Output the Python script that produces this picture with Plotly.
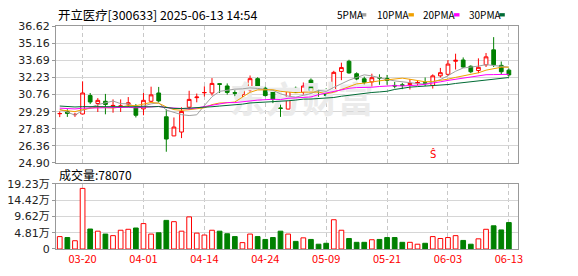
import plotly.graph_objects as go
import pandas as pd

# ---------------- data ----------------
dates = ["03-17","03-18","03-19","03-20","03-21","03-24","03-25","03-26","03-27","03-28","03-31",
         "04-01","04-02","04-03","04-07","04-08","04-09","04-10","04-11","04-14","04-15","04-16",
         "04-17","04-18","04-21","04-22","04-23","04-24","04-25","04-28","04-29","04-30",
         "05-06","05-07","05-08","05-09","05-12","05-13","05-14","05-15","05-16","05-19","05-20",
         "05-21","05-22","05-23","05-26","05-27","05-28","05-29","05-30",
         "06-03","06-04","06-05","06-06","06-09","06-10","06-11","06-12","06-13"]

opens  = [29.12, 29.30, 29.04, 29.10, 30.68, 30.00, 30.19, 29.78, 29.74, 29.95,
          29.68, 29.54, 30.19, 30.90, 28.86, 27.22, 27.55, 29.68, 30.50, 30.92,
          30.90, 31.70, 31.50, 30.93, 30.76, 31.17, 32.13, 31.31, 31.03, 29.62,
          29.52, 31.30, 30.95, 32.00, 31.00, 31.09, 31.03, 32.75, 33.62, 32.55,
          32.12, 31.85, 32.23, 32.15, 31.55, 31.60, 31.62, 31.75, 31.78, 31.55,
          32.37, 32.50, 33.62, 33.73, 33.19, 32.83, 33.32, 34.60, 33.27, 32.86]
highs  = [29.32, 29.50, 29.20, 31.90, 30.90, 30.46, 30.82, 30.35, 30.35, 30.55,
          29.95, 30.90, 31.44, 31.42, 29.50, 28.80, 29.67, 31.09, 30.85, 31.47,
          32.18, 31.72, 31.72, 31.17, 31.52, 32.40, 32.25, 31.45, 31.12, 29.90,
          31.30, 31.45, 31.80, 32.15, 31.17, 31.30, 32.80, 33.50, 33.75, 32.67,
          32.30, 32.55, 32.50, 32.45, 31.85, 31.77, 32.10, 31.96, 32.23, 32.50,
          33.05, 33.73, 34.27, 33.95, 33.27, 33.87, 34.33, 35.69, 33.60, 33.00]
lows   = [28.83, 28.85, 28.85, 29.05, 29.95, 29.27, 29.07, 29.21, 29.27, 29.70,
          28.80, 28.99, 30.08, 30.08, 25.86, 27.20, 27.03, 29.45, 30.10, 30.60,
          30.68, 30.90, 30.76, 30.62, 30.49, 30.95, 31.35, 30.60, 30.03, 28.85,
          29.50, 30.90, 30.76, 30.95, 30.57, 30.50, 30.90, 32.00, 32.55, 31.99,
          31.60, 31.45, 31.60, 31.60, 31.30, 31.23, 31.20, 31.55, 31.50, 31.28,
          32.23, 32.37, 32.91, 33.05, 32.60, 32.60, 33.13, 33.13, 32.50, 32.30]
closes = [29.14, 29.15, 29.06, 30.90, 30.13, 30.27, 29.92, 29.83, 29.79, 30.05,
          28.99, 30.27, 30.74, 30.22, 26.95, 27.98, 29.32, 30.35, 30.55, 30.94,
          31.72, 31.64, 30.95, 30.88, 31.09, 32.13, 31.40, 30.68, 30.35, 29.58,
          31.15, 30.95, 31.50, 31.10, 30.95, 30.68, 32.67, 33.08, 32.62, 32.10,
          31.82, 32.21, 32.18, 31.98, 31.50, 31.55, 31.72, 31.80, 31.73, 32.37,
          32.64, 33.38, 33.70, 33.13, 32.72, 33.10, 34.00, 33.32, 32.72, 32.45]
# closes before the visible window (estimated from the MA lines' starting levels)
prior_closes = [30.4, 30.2, 30.0, 30.3, 30.1, 29.9, 30.2, 30.1, 30.0, 30.2,
                29.9, 29.7, 29.6, 29.8, 29.9, 29.7, 29.6, 29.8, 29.7, 29.8,
                29.9, 29.8, 29.2, 29.0, 29.1, 30.5, 30.2, 28.9, 28.77]
# volume in 万手
volumes = [3.66, 3.38, 2.44, 17.9, 5.90, 5.26, 4.41, 3.94, 5.54, 5.82,
           6.20, 7.50, 4.41, 4.79, 8.45, 8.07, 5.26, 9.48, 4.69, 4.13,
           5.54, 5.26, 4.50, 3.66, 1.88, 4.41, 3.66, 2.82, 3.38, 5.26,
           4.41, 2.25, 3.29, 2.82, 1.41, 1.69, 8.64, 5.54, 3.10, 1.97,
           1.97, 2.73, 2.82, 3.38, 3.38, 1.97, 1.97, 1.41, 1.69, 3.66,
           3.10, 3.38, 3.94, 2.53, 1.41, 3.00, 5.82, 6.85, 5.63, 7.807]

price_ticks = [36.62, 35.16, 33.69, 32.23, 30.76, 29.29, 27.83, 26.36, 24.90]
price_labels = ["36.62", "35.16", "33.69", "32.23", "30.76", "29.29", "27.83", "26.36", "24.90"]
vol_ticks = [19.23, 14.42, 9.62, 4.81, 0]
vol_labels = ["19.23万", "14.42万", "9.62万", "4.81万", "0"]
ma_periods = [5, 10, 20, 30]
ma_names = ["5PMA", "10PMA", "20PMA", "30PMA"]
signal_idx = 49
title_text = "开立医疗[300633] 2025-06-13 14:54"

# ---------------- styling ----------------
W, H = 578, 276
RED = "#FF0000"
GREEN = "#008000"
MA_COLORS = ["#A0A0A0", "#F0A000", "#FF00FF", "#006B35"]
CJK = "Noto Sans CJK SC"
NUM = "DejaVu Sans, Noto Sans CJK SC"

def px(x):
    return x / W

def py(y):
    return 1 - y / H

idx = list(range(len(dates)))
tick_idx = list(range(3, len(dates), 8))
xdom = [px(56.5), px(522.3)]
xrng = [-0.49, 60.17]

fig = go.Figure()

# watermark (drawn first, under everything)
fig.add_trace(go.Scatter(x=[31.8], y=[29.95], mode="text", text=["东方财富"],
                         textfont=dict(family=CJK, size=36, color="#EBEBEB", weight="bold"),
                         hoverinfo="skip", showlegend=False, xaxis="x", yaxis="y"))

# moving averages
allc = pd.Series(prior_closes + closes)
for n, col in zip(ma_periods, MA_COLORS):
    ma = allc.rolling(n).mean().iloc[len(prior_closes):].tolist()
    fig.add_trace(go.Scatter(x=idx, y=ma, mode="lines", line=dict(color=col, width=1),
                             hoverinfo="skip", showlegend=False, xaxis="x", yaxis="y"))

# candles
fig.add_trace(go.Candlestick(
    x=idx, open=opens, high=highs, low=lows, close=closes,
    increasing=dict(line=dict(color=RED, width=1), fillcolor="#FFFFFF"),
    decreasing=dict(line=dict(color=GREEN, width=1), fillcolor=GREEN),
    whiskerwidth=0, hoverinfo="skip", showlegend=False, xaxis="x", yaxis="y"))

# volume
up = [c >= o for o, c in zip(opens, closes)]
fig.add_trace(go.Bar(
    x=idx, y=volumes, width=0.62,
    marker=dict(color=["#FFFFFF" if u else GREEN for u in up],
                line=dict(color=[RED if u else GREEN for u in up], width=1)),
    hoverinfo="skip", showlegend=False, xaxis="x2", yaxis="y2"))

axis_common = dict(showline=True, mirror=True, linecolor="#999999", linewidth=1, zeroline=False)

fig.update_layout(
    width=W, height=H, margin=dict(l=0, r=0, t=0, b=0),
    paper_bgcolor="white", plot_bgcolor="white", showlegend=False,
    xaxis=dict(domain=xdom, range=xrng, anchor="y", tickvals=tick_idx, showticklabels=False,
               showgrid=True, gridcolor="#C8C8C8", griddash="4px,3px", ticks="",
               rangeslider=dict(visible=False), **axis_common),
    yaxis=dict(domain=[py(164.7), py(21.3)], range=[price_ticks[-1], price_ticks[0]], anchor="x",
               tickvals=price_ticks, ticktext=price_labels, showgrid=True, gridcolor="#D6D6D6",
               ticks="outside", ticklen=3, tickcolor="#999999",
               tickfont=dict(family=NUM, size=11, color="#222222"), **axis_common),
    xaxis2=dict(domain=xdom, range=xrng, anchor="y2", tickvals=tick_idx,
                ticktext=[dates[i] for i in tick_idx], showgrid=True, gridcolor="#C8C8C8",
                griddash="4px,3px", ticks="",
                tickfont=dict(family=CJK, size=11, color=RED), **axis_common),
    yaxis2=dict(domain=[py(255), py(186.7)], range=[0, vol_ticks[0]], anchor="x2",
                tickvals=vol_ticks, ticktext=vol_labels, showgrid=True, gridcolor="#D6D6D6",
                ticks="outside", ticklen=3, tickcolor="#999999",
                tickfont=dict(family=NUM, size=11, color="#222222"), **axis_common),
)

annotations = [
    dict(x=px(56), y=py(9), xref="paper", yref="paper", xanchor="left", yanchor="middle",
         text=title_text, showarrow=False, font=dict(family=CJK, size=12.4, color="#000000")),
    dict(x=px(57), y=py(177), xref="paper", yref="paper", xanchor="left", yanchor="middle",
         text="成交量:%d" % round(volumes[-1] * 10000), showarrow=False,
         font=dict(family=CJK, size=12, color="#000000")),
    dict(x=signal_idx, y=price_ticks[-1], xref="x", yref="y", xanchor="center", yanchor="bottom",
         yshift=1, text="Ŝ", showarrow=False, font=dict(family="DejaVu Sans", size=10, color=RED)),
]
shapes = []
leg_text_x = [337.5, 378.7, 424.6, 470.6]
leg_sq_x = [364, 412, 458, 503.7]
for name, col, tx, sx in zip(ma_names, MA_COLORS, leg_text_x, leg_sq_x):
    annotations.append(dict(x=px(tx), y=py(9), xref="paper", yref="paper", xanchor="left",
                            yanchor="middle", text=name, showarrow=False,
                            font=dict(family=CJK, size=10, color="#000000")))
    shapes.append(dict(type="rect", xref="paper", yref="paper", x0=px(sx), x1=px(sx + 5.5),
                       y0=py(11), y1=py(7.5), fillcolor=col, line=dict(width=0)))

fig.update_layout(annotations=annotations, shapes=shapes)

fig.write_html("out.html")
